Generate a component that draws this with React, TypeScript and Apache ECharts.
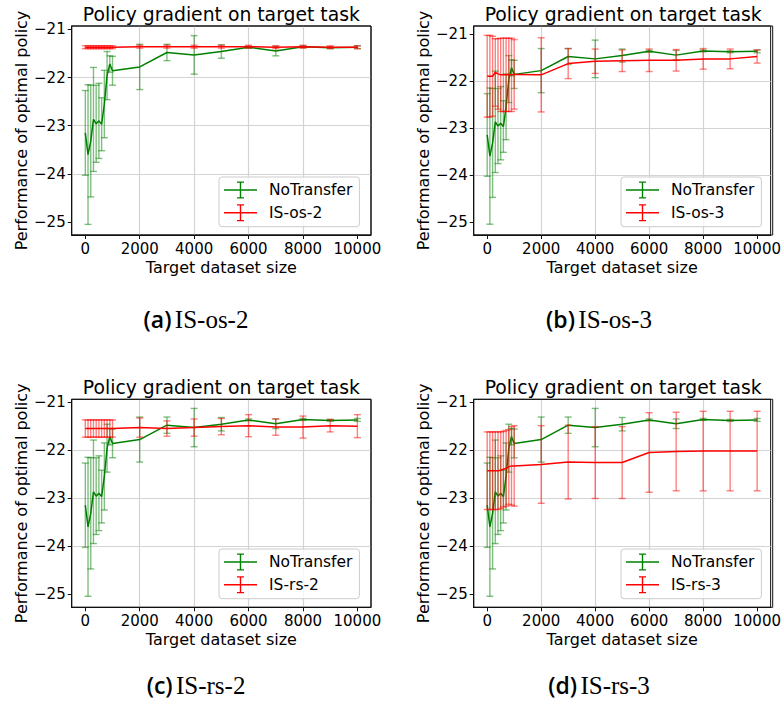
import React, { useEffect, useRef } from "react";
import * as echarts from "echarts";

// ---------- data ----------
const xValues = [0, 100, 200, 300, 400, 500, 600, 700, 800, 900, 1000, 2000, 3000, 4000, 5000, 6000, 7000, 8000, 9000, 10000];

const noTransferMean = [-23.15, -23.6, -23.32, -22.87, -22.96, -22.9, -22.97, -22.55, -21.96, -21.72, -21.86, -21.78, -21.48, -21.53, -21.46, -21.37, -21.45, -21.36, -21.38, -21.37];
const noTransferErr = [0.88, 1.45, 1.16, 1.08, 0.8, 0.78, 0.55, 0.7, 0.5, 0.17, 0.3, 0.47, 0.17, 0.4, 0.14, 0.02, 0.1, 0.02, 0.02, 0.03];

const isOs2Mean = [-21.37, -21.37, -21.37, -21.37, -21.37, -21.37, -21.37, -21.37, -21.37, -21.37, -21.37, -21.36, -21.36, -21.36, -21.36, -21.36, -21.37, -21.36, -21.37, -21.37];
const isOs2Err = [0.03, 0.03, 0.03, 0.03, 0.03, 0.03, 0.03, 0.03, 0.03, 0.03, 0.03, 0.03, 0.03, 0.03, 0.03, 0.03, 0.03, 0.03, 0.03, 0.03];

const isOs3Mean = [-21.9, -21.9, -21.9, -21.82, -21.85, -21.87, -21.87, -21.87, -21.87, -21.87, -21.86, -21.87, -21.63, -21.58, -21.57, -21.56, -21.56, -21.53, -21.53, -21.48];
const isOs3Err = [0.87, 0.87, 0.85, 0.72, 0.75, 0.78, 0.78, 0.78, 0.78, 0.78, 0.74, 0.79, 0.32, 0.26, 0.23, 0.24, 0.23, 0.22, 0.21, 0.14];

const isRs2Mean = [-21.55, -21.55, -21.55, -21.55, -21.55, -21.55, -21.55, -21.55, -21.55, -21.55, -21.55, -21.53, -21.55, -21.53, -21.51, -21.49, -21.52, -21.52, -21.49, -21.5];
const isRs2Err = [0.18, 0.18, 0.18, 0.18, 0.18, 0.18, 0.18, 0.18, 0.18, 0.18, 0.18, 0.2, 0.16, 0.18, 0.17, 0.23, 0.17, 0.23, 0.13, 0.24];

const isRs3Mean = [-22.43, -22.43, -22.43, -22.43, -22.43, -22.42, -22.4, -22.38, -22.35, -22.33, -22.33, -22.3, -22.25, -22.26, -22.26, -22.05, -22.03, -22.02, -22.02, -22.02];
const isRs3Err = [0.81, 0.81, 0.81, 0.81, 0.81, 0.8, 0.79, 0.79, 0.78, 0.82, 0.84, 0.81, 0.77, 0.75, 0.75, 0.83, 0.82, 0.83, 0.83, 0.83];

const xTicks = [0, 2000, 4000, 6000, 8000, 10000];
const yTicks = [-25, -24, -23, -22, -21];

const plotTitle = "Policy gradient on target task";
const xName = "Target dataset size";
const yName = "Performance of optimal policy";
const baseName = "NoTransfer";

// ---------- layout ----------
const panels = [
  { grid: { left: 71.7, top: 26, width: 299.3, height: 209 }, yMin: -25.27, yMax: -20.93, redName: "IS-os-2", redMean: isOs2Mean, redErr: isOs2Err, legend: { left: 219, top: 177 }, tag: "(a)", cx: 196, cy: 319 },
  { grid: { left: 473.7, top: 26, width: 299, height: 209 }, yMin: -25.28, yMax: -20.83, redName: "IS-os-3", redMean: isOs3Mean, redErr: isOs3Err, legend: { left: 621, top: 177 }, tag: "(b)", cx: 599, cy: 319 },
  { grid: { left: 71.7, top: 399.3, width: 299.3, height: 208 }, yMin: -25.28, yMax: -20.94, redName: "IS-rs-2", redMean: isRs2Mean, redErr: isRs2Err, legend: { left: 219, top: 549 }, tag: "(c)", cx: 196, cy: 685 },
  { grid: { left: 473.7, top: 399.3, width: 299, height: 208 }, yMin: -25.28, yMax: -20.94, redName: "IS-rs-3", redMean: isRs3Mean, redErr: isRs3Err, legend: { left: 621, top: 549 }, tag: "(d)", cx: 599, cy: 685 },
];

const GREEN = "#008000";
const RED = "#ff0000";
const FONT = "DejaVu Sans";
const errIcon =
  "path://M0,7.7 L33,7.7 L33,9.3 L0,9.3 Z M15.8,0 L17.2,0 L17.2,17 L15.8,17 Z M13,0 L20,0 L20,1.3 L13,1.3 Z M13,15.7 L20,15.7 L20,17 L13,17 Z";

const minus = (v: number) => (v < 0 ? "\u2212" + Math.abs(v) : String(v));
const near = (v: number, list: number[]) => list.some((t) => Math.abs(t - v) < 1e-6);

function errRender(color: string) {
  return (_params: any, api: any) => {
    const x = api.value(0);
    const m = api.value(1);
    const e = api.value(2);
    const top = api.coord([x, m + e]);
    const bot = api.coord([x, m - e]);
    const cap = 3.5;
    const style = { stroke: color, lineWidth: 1.4, opacity: 0.5 };
    return {
      type: "group",
      children: [
        { type: "line", shape: { x1: top[0], y1: top[1], x2: bot[0], y2: bot[1] }, style },
        { type: "line", shape: { x1: top[0] - cap, y1: top[1], x2: top[0] + cap, y2: top[1] }, style },
        { type: "line", shape: { x1: bot[0] - cap, y1: bot[1], x2: bot[0] + cap, y2: bot[1] }, style },
      ],
    };
  };
}

function buildOption() {
  const grid: any[] = [];
  const xAxis: any[] = [];
  const yAxis: any[] = [];
  const series: any[] = [];
  const title: any[] = [];
  const legend: any[] = [];
  const graphic: any[] = [];

  panels.forEach((p, i) => {
    grid.push({ ...p.grid, show: true, borderColor: "#111", borderWidth: 1, containLabel: false });
    xAxis.push({
      type: "value",
      gridIndex: i,
      min: -500,
      max: 10500,
      name: xName,
      nameLocation: "middle",
      nameGap: 24,
      nameTextStyle: { fontFamily: FONT, fontSize: 16, color: "#000" },
      axisLine: { show: true, onZero: false, lineStyle: { color: "#111", width: 1 } },
      axisTick: { show: true, length: 4, inside: false, lineStyle: { color: "#111" }, customValues: xTicks },
      axisLabel: {
        show: true, margin: 6, fontFamily: FONT, fontSize: 15, color: "#000",
        formatter: (v: number) => (near(v, xTicks) ? String(Math.round(v)) : ""),
      },
      splitLine: { show: true, showMinLine: false, showMaxLine: false, lineStyle: { color: "#d3d3d3", width: 1.2 } },
    });
    yAxis.push({
      type: "value",
      gridIndex: i,
      min: p.yMin,
      max: p.yMax,
      name: yName,
      nameLocation: "middle",
      nameGap: 42,
      nameTextStyle: { fontFamily: FONT, fontSize: 16, color: "#000" },
      axisLine: { show: true, onZero: false, lineStyle: { color: "#111", width: 1 } },
      axisTick: { show: true, length: 4, inside: false, lineStyle: { color: "#111" }, customValues: yTicks },
      axisLabel: {
        show: true, margin: 6, fontFamily: FONT, fontSize: 15, color: "#000",
        formatter: (v: number) => (near(v, yTicks) ? minus(Math.round(v)) : ""),
      },
      splitLine: { show: true, showMinLine: false, showMaxLine: false, lineStyle: { color: "#d3d3d3", width: 1.2 } },
    });

    const greenLine = xValues.map((x, k) => [x, noTransferMean[k]]);
    const greenErr = xValues.map((x, k) => [x, noTransferMean[k], noTransferErr[k]]);
    const redLine = xValues.map((x, k) => [x, p.redMean[k]]);
    const redErr = xValues.map((x, k) => [x, p.redMean[k], p.redErr[k]]);

    series.push({
      type: "line", name: baseName, xAxisIndex: i, yAxisIndex: i, data: greenLine,
      showSymbol: false, symbol: "none", lineStyle: { color: GREEN, width: 1.5 }, itemStyle: { color: GREEN }, z: 2,
    });
    series.push({
      type: "custom", name: baseName, xAxisIndex: i, yAxisIndex: i, data: greenErr,
      renderItem: errRender(GREEN), encode: { x: 0, y: 1 }, itemStyle: { color: GREEN }, z: 2,
    });
    series.push({
      type: "line", name: p.redName, xAxisIndex: i, yAxisIndex: i, data: redLine,
      showSymbol: false, symbol: "none", lineStyle: { color: RED, width: 1.5 }, itemStyle: { color: RED }, z: 3,
    });
    series.push({
      type: "custom", name: p.redName, xAxisIndex: i, yAxisIndex: i, data: redErr,
      renderItem: errRender(RED), encode: { x: 0, y: 1 }, itemStyle: { color: RED }, z: 3,
    });

    title.push({
      text: plotTitle,
      left: p.grid.left + p.grid.width / 2,
      top: p.grid.top - 23,
      textAlign: "center",
      padding: 0,
      textStyle: { fontFamily: FONT, fontSize: 18.8, fontWeight: "normal", color: "#000", lineHeight: 22 },
    });

    legend.push({
      left: p.legend.left,
      top: p.legend.top,
      orient: "vertical",
      itemWidth: 33,
      itemHeight: 17,
      itemGap: 4.7,
      padding: [4, 7, 5, 5],
      backgroundColor: "rgba(255,255,255,0.8)",
      borderColor: "#cccccc",
      borderWidth: 1,
      borderRadius: 3,
      selectedMode: false,
      textStyle: { fontFamily: FONT, fontSize: 15.5, color: "#000", lineHeight: 18, padding: [0, 0, 0, 7] },
      data: [
        { name: baseName, icon: errIcon, itemStyle: { color: GREEN, borderWidth: 0 } },
        { name: p.redName, icon: errIcon, itemStyle: { color: RED, borderWidth: 0 } },
      ],
    });

    // plot frame (all four spines)
    graphic.push({
      type: "rect",
      z: 50,
      silent: true,
      shape: { x: p.grid.left, y: p.grid.top, width: p.grid.width, height: p.grid.height },
      style: { fill: "none", stroke: "#111", lineWidth: 1 },
    });

    graphic.push({
      type: "text",
      x: p.cx,
      y: p.cy,
      style: {
        text: "{t|" + p.tag + "} {s|" + p.redName + "}",
        align: "center",
        verticalAlign: "middle",
        rich: {
          t: { fontFamily: "Open Sans", fontWeight: 600, fontSize: 23, fill: "#000" },
          s: { fontFamily: "Liberation Serif", fontSize: 25, fill: "#000" },
        },
      },
    });
  });

  return { animation: false, backgroundColor: "#fff", grid, xAxis, yAxis, series, title, legend, graphic };
}

export default function App() {
  const ref = useRef<HTMLDivElement>(null);
  useEffect(() => {
    document.body.style.margin = "0";
    if (!ref.current) return;
    const chart = echarts.init(ref.current, undefined, { renderer: "svg" });
    chart.setOption(buildOption() as any);
    return () => chart.dispose();
  }, []);
  return <div ref={ref} style={{ width: 784, height: 704 }} />;
}
